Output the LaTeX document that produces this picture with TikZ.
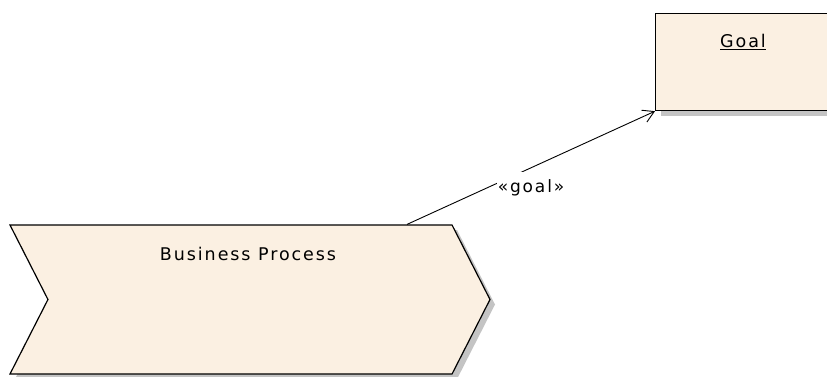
\documentclass[tikz,border=0pt]{standalone}
\usepackage{fontspec}
\setmainfont{DejaVu Sans}[LetterSpace=11]
\usetikzlibrary{arrows.meta, shapes.symbols, shadows, positioning}

\definecolor{eafill}{HTML}{FBF0E2}
\definecolor{eashadow}{HTML}{C4C4C4}

\tikzset{
    element/.style={draw, line width=1.2pt, fill=eafill,
        drop shadow={shadow xshift=5pt, shadow yshift=-5pt, fill=eashadow, opacity=1}},
    title/.style={font=\fontsize{17.5}{19}\selectfont, inner sep=0pt},
    stereo/.style={font=\fontsize{17}{19}\selectfont, fill=white, inner xsep=1pt, inner ysep=8pt}
}

\begin{document}
\begin{tikzpicture}[x=1pt, y=-1pt, >={Straight Barb[length=11pt, width=13pt]}]
        \useasboundingbox (0,0) rectangle (827,377);
        \node[element, minimum width=176pt, minimum height=97pt, inner sep=0pt,
            anchor=north west] (goal) at (655,13)
            {};
        \node[title, anchor=base] (goalname) at (743,48) {\underline{Goal}};
        \node[element, shape=signal, signal from=west, signal to=east,
            signal pointer angle=126, minimum width=480pt, minimum height=149pt,
            inner sep=0pt] (process) at (250,299.5) {};
        \node[title, anchor=base] (processname) at (248,260) {Business Process};
        \draw[->, line width=0.9pt] ([xshift=157pt]process.north) --
            node[stereo, pos=0.5, yshift=-20pt] (rel) {«goal»} (goal.south west);
    \end{tikzpicture}
\end{document}
